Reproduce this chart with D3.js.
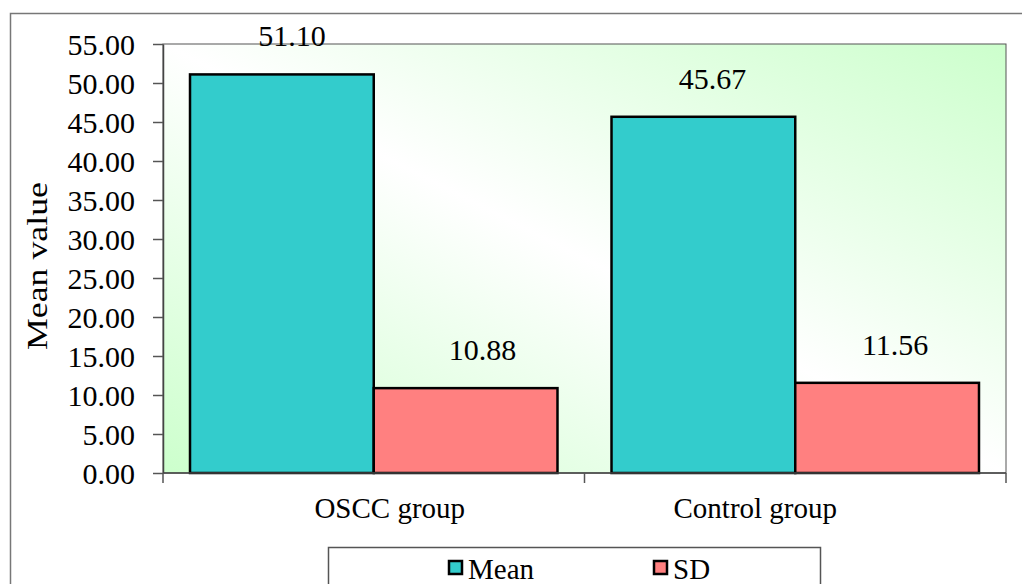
<!DOCTYPE html>
<html><head><meta charset="utf-8">
<script src="https://cdn.jsdelivr.net/npm/d3@7/dist/d3.min.js"></script>
<style>body{margin:0;background:#fff;}svg{display:block;} text{font-family:"Times New Roman","Liberation Serif","DejaVu Serif",serif;}</style>
</head><body><svg id="c" width="1022" height="584"></svg>
<script>
const categories = ["OSCC group", "Control group"];
const seriesNames = ["Mean", "SD"];
const meanValues = [51.10, 45.67];
const sdValues = [10.88, 11.56];
const yTicks = [0, 5, 10, 15, 20, 25, 30, 35, 40, 45, 50, 55];
const seriesColors = ["#33CCCC", "#FF8080"];

const FF = "'Times New Roman','Liberation Serif','DejaVu Serif',serif";
const svg = d3.select("#c");
const L = 163, R = 1006, T = 44, B = 473;
const x = d3.scaleBand().domain(categories).range([L, R]).paddingInner(0).paddingOuter(0);
const xs = d3.scaleBand().domain(seriesNames).range([0, x.bandwidth()]).paddingInner(0).paddingOuter(0.147);
const y = d3.scaleLinear().domain([0, 55]).range([B, T]);
const series = [meanValues, sdValues];

const defs = svg.append("defs");
const g = defs.append("linearGradient").attr("id","bg").attr("x1",0).attr("y1",1).attr("x2",1).attr("y2",0);
g.append("stop").attr("offset",0).attr("stop-color","#ccffcc");
g.append("stop").attr("offset",0.5).attr("stop-color","#ffffff");
g.append("stop").attr("offset",1).attr("stop-color","#ccffcc");

// outer chart frame
svg.append("path").attr("d","M10.5,600 V13.5 H1030").attr("fill","none").attr("stroke","#777").attr("stroke-width",1.5);

// plot area
svg.append("rect").attr("x",L).attr("y",T).attr("width",R-L).attr("height",B-T)
  .attr("fill","url(#bg)").attr("stroke","#555").attr("stroke-width",1);

// y axis
const yAxis = d3.axisLeft(y).tickValues(yTicks).tickFormat(d3.format(".2f")).tickSize(10).tickSizeOuter(0);
const ya = svg.append("g").attr("transform",`translate(${L},0)`).call(yAxis).attr("font-family",FF);
ya.select(".domain").attr("stroke","#444").attr("stroke-width",1.5);
ya.selectAll(".tick line").attr("stroke","#555").attr("stroke-width",1.5);
ya.selectAll(".tick text").attr("font-size",30).attr("fill","#000").attr("x",-28).attr("dy","0.34em")
  .attr("font-family",FF);

// bars
categories.forEach((c, i) => {
  series.forEach((vals, s) => {
    svg.append("rect")
      .attr("x", x(c) + xs(seriesNames[s]))
      .attr("y", y(vals[i]))
      .attr("width", xs.bandwidth())
      .attr("height", y(0) - y(vals[i]))
      .attr("fill", seriesColors[s]).attr("stroke","#000").attr("stroke-width",2.5);
  });
});

// x axis
const xa = svg.append("g").attr("transform",`translate(0,${B})`);
xa.append("line").attr("x1",L).attr("x2",R).attr("y1",0).attr("y2",0).attr("stroke","#444").attr("stroke-width",1.5);
const edges = [x(categories[0]), ...categories.map(c => x(c) + x.bandwidth())];
edges.forEach(e => xa.append("line").attr("x1",e).attr("x2",e).attr("y1",0).attr("y2",10).attr("stroke","#555").attr("stroke-width",1.5));
const catOffsets = [16, -40];
categories.forEach((c, i) => {
  svg.append("text").attr("x", x(c) + x.bandwidth()/2 + catOffsets[i]).attr("y", 518)
    .attr("text-anchor","middle").attr("font-size",29).attr("font-family",FF).text(c);
});

// data labels
const labOffsets = [[10, 17], [9, 8]];
categories.forEach((c, i) => {
  series.forEach((vals, s) => {
    svg.append("text")
      .attr("x", x(c) + xs(seriesNames[s]) + xs.bandwidth()/2 + labOffsets[i][s])
      .attr("y", y(vals[i]) - 28)
      .attr("text-anchor","middle").attr("font-size",30).attr("font-family",FF).text(vals[i].toFixed(2));
  });
});

// y title
svg.append("text").attr("transform","translate(47,266) rotate(-90)")
  .attr("text-anchor","middle").attr("font-size",30).attr("font-family",FF)
  .attr("textLength",168).attr("lengthAdjust","spacingAndGlyphs").text("Mean value");

// legend
svg.append("rect").attr("x",328.5).attr("y",547.5).attr("width",492).attr("height",60)
  .attr("fill","#fff").attr("stroke","#555").attr("stroke-width",1.5);
const legX = [448, 653];
seriesNames.forEach((n, s) => {
  svg.append("rect").attr("x",legX[s]+1).attr("y",561).attr("width",13).attr("height",13)
    .attr("fill",seriesColors[s]).attr("stroke","#000").attr("stroke-width",2.5);
  svg.append("text").attr("x",legX[s]+20).attr("y",579).attr("font-size",29).attr("font-family",FF).text(n);
});
</script></body></html>
